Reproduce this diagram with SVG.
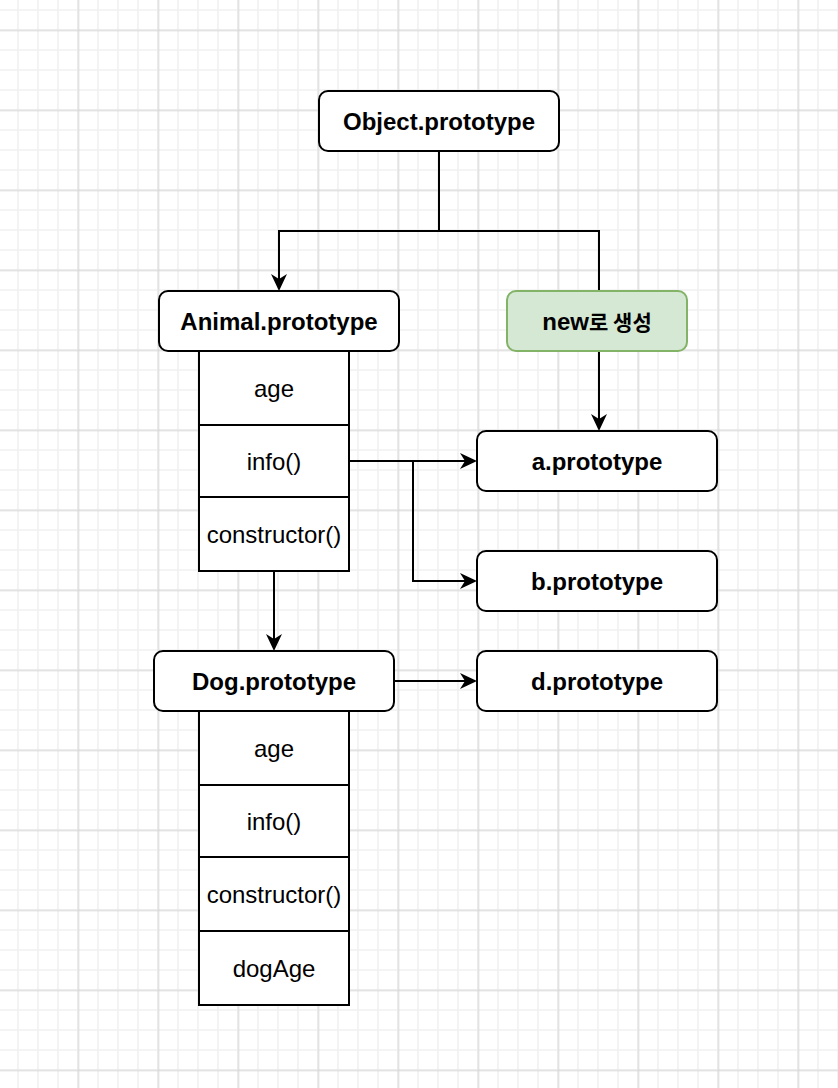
<svg xmlns="http://www.w3.org/2000/svg" width="838" height="1088" viewBox="0 0 838 1088">
  <defs>
    <style>
      .box { fill: #ffffff; stroke: #000000; stroke-width: 2; }
      .green { fill: #d5e8d4; stroke: #82b366; stroke-width: 2; }
      .edge { fill: none; stroke: #000000; stroke-width: 2; }
      .title { font-family: "Liberation Sans", Arial, "Noto Sans CJK KR", sans-serif; font-size: 24px; font-weight: bold; fill: #000000; text-anchor: middle; }
      .field { font-family: "Liberation Sans", Arial, sans-serif; font-size: 24px; fill: #000000; text-anchor: middle; }
      .kr { font-family: "Noto Sans CJK KR", sans-serif; font-size: 21px; font-weight: bold; }
    </style>
    <pattern id="minor" x="8" y="0" width="20" height="20" patternUnits="userSpaceOnUse">
      <path d="M10 0V20M0 10H20" stroke="#f1f1f1" stroke-width="1.6" fill="none"/>
    </pattern>
    <pattern id="major" x="38.5" y="-9.5" width="80" height="80" patternUnits="userSpaceOnUse">
      <path d="M40 0V80M0 40H80" stroke="#d2d2d2" stroke-width="1" fill="none"/>
    </pattern>
    <marker id="arrow" viewBox="0 0 17 16" refX="5" refY="8" markerWidth="17" markerHeight="16" markerUnits="userSpaceOnUse" orient="auto">
      <path d="M0,0 L17,8 L0,16 L5,8 Z" fill="#000000"/>
    </marker>
  </defs>

  <rect x="0" y="0" width="838" height="1088" fill="#ffffff"/>
  <rect x="0" y="0" width="838" height="1088" fill="url(#minor)"/>
  <rect x="0" y="0" width="838" height="1088" fill="url(#major)"/>

  <g id="connectors">
    <path class="edge" d="M439,151 V231 H279 V279" marker-end="url(#arrow)"/>
    <path class="edge" d="M439,231 H599 V419" marker-end="url(#arrow)"/>
    <path class="edge" d="M349,461 H465" marker-end="url(#arrow)"/>
    <path class="edge" d="M413,461 V581 H465" marker-end="url(#arrow)"/>
    <path class="edge" d="M274,571 V639" marker-end="url(#arrow)"/>
    <path class="edge" d="M394,681 H465" marker-end="url(#arrow)"/>
  </g>

  <g id="object-prototype">
    <rect class="box" x="319" y="91" width="240" height="60" rx="9"/>
    <text class="title" x="439" y="129.5">Object.prototype</text>
  </g>

  <g id="animal-prototype">
    <rect class="box" x="159" y="291" width="240" height="60" rx="9"/>
    <text class="title" x="279" y="329.5">Animal.prototype</text>
  </g>
  <g id="animal-age">
    <rect class="box" x="199" y="351" width="150" height="74"/>
    <text class="field" x="274" y="396.5">age</text>
  </g>
  <g id="animal-info">
    <rect class="box" x="199" y="425" width="150" height="72"/>
    <text class="field" x="274" y="469.5">info()</text>
  </g>
  <g id="animal-constructor">
    <rect class="box" x="199" y="497" width="150" height="74"/>
    <text class="field" x="274" y="542.5">constructor()</text>
  </g>

  <g id="new-label">
    <rect class="green" x="507" y="291" width="180" height="60" rx="9"/>
    <text class="title" x="597" y="329.5">new<tspan class="kr">로 생성</tspan></text>
  </g>

  <g id="a-prototype">
    <rect class="box" x="477" y="431" width="240" height="60" rx="9"/>
    <text class="title" x="597" y="469.5">a.prototype</text>
  </g>
  <g id="b-prototype">
    <rect class="box" x="477" y="551" width="240" height="60" rx="9"/>
    <text class="title" x="597" y="589.5">b.prototype</text>
  </g>
  <g id="d-prototype">
    <rect class="box" x="477" y="651" width="240" height="60" rx="9"/>
    <text class="title" x="597" y="689.5">d.prototype</text>
  </g>

  <g id="dog-prototype">
    <rect class="box" x="154" y="651" width="240" height="60" rx="9"/>
    <text class="title" x="274" y="689.5">Dog.prototype</text>
  </g>
  <g id="dog-age">
    <rect class="box" x="199" y="711" width="150" height="74"/>
    <text class="field" x="274" y="756.5">age</text>
  </g>
  <g id="dog-info">
    <rect class="box" x="199" y="785" width="150" height="72"/>
    <text class="field" x="274" y="829.5">info()</text>
  </g>
  <g id="dog-constructor">
    <rect class="box" x="199" y="857" width="150" height="74"/>
    <text class="field" x="274" y="902.5">constructor()</text>
  </g>
  <g id="dog-dogage">
    <rect class="box" x="199" y="931" width="150" height="74"/>
    <text class="field" x="274" y="976.5">dogAge</text>
  </g>
</svg>
